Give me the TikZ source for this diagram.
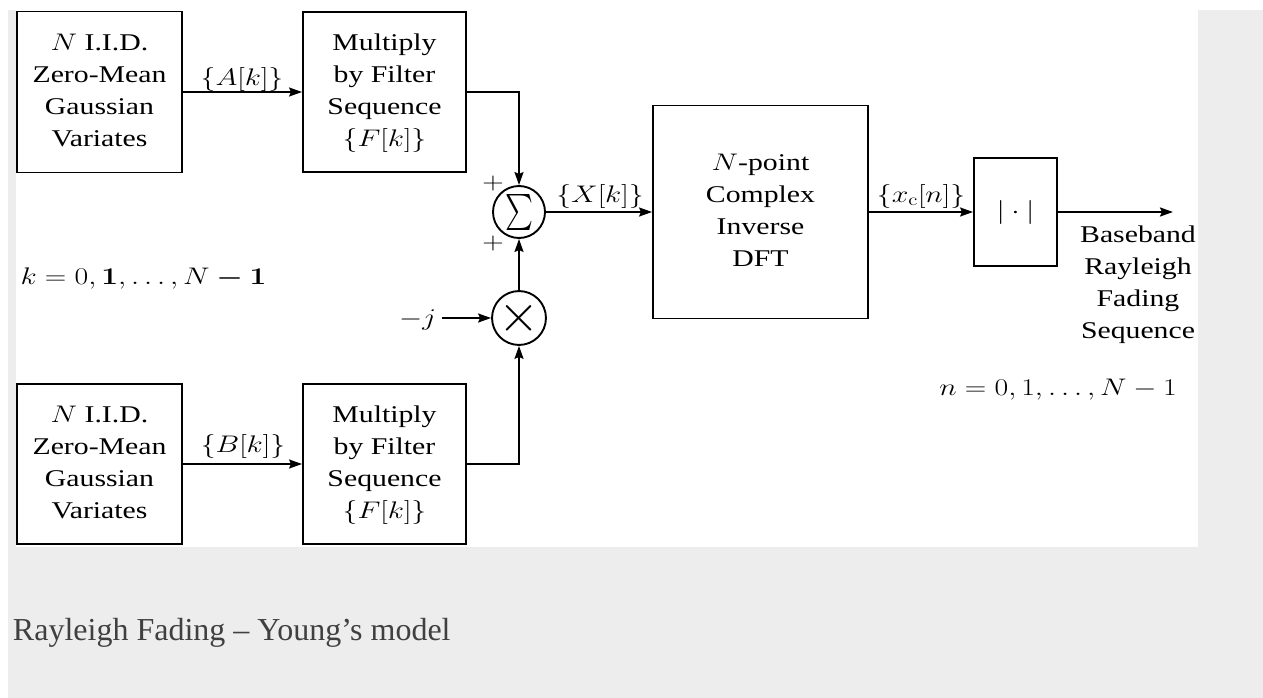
\RequirePackage{fix-cm}
\documentclass[tikz,border=0pt]{standalone}
\usepackage{amsmath}
\usepackage[no-math]{fontspec}
\setmainfont{Liberation Serif}
\usepackage{graphicx}
\usetikzlibrary{arrows.meta}
\definecolor{pagegrey}{HTML}{EDEDED}
\definecolor{captiongrey}{HTML}{404040}
\newcommand{\hs}[1]{\scalebox{1.24}[1]{#1}}
\newcommand{\lines}[1]{\hs{\begin{tabular}{@{}c@{}}#1\end{tabular}}}
\begin{document}
\begin{tikzpicture}[x=1pt,y=-1pt,line width=1.9pt,
  font=\fontsize{24}{32}\selectfont,
  box/.style={draw,inner sep=0pt,align=center},
  opnode/.style={draw,circle,minimum size=52pt,inner sep=0pt},
  lab/.style={inner sep=0pt},
  arr/.style={-{Stealth[length=13pt,width=9pt,inset=2pt]}}]
\useasboundingbox (0,0) rectangle (1263,698);
\fill[white] (0,0) rectangle (1263,698);
\fill[pagegrey] (8,10) rectangle (1263,698);
\fill[white] (16,10) rectangle (1198,547);

% boxes
\node[box,minimum width=165pt,minimum height=161pt] (g1) at (99.5,92) {\lines{$N$ I.I.D.\\Zero-Mean\\Gaussian\\Variates}};
\node[box,minimum width=163pt,minimum height=160pt] (f1) at (384.5,92) {\lines{Multiply\\by Filter\\Sequence\\$\{F[k]\}$}};
\node[box,minimum width=165pt,minimum height=160pt] (g2) at (99.5,464) {\lines{$N$ I.I.D.\\Zero-Mean\\Gaussian\\Variates}};
\node[box,minimum width=163pt,minimum height=160pt] (f2) at (384.5,464) {\lines{Multiply\\by Filter\\Sequence\\$\{F[k]\}$}};
\node[opnode] (sum) at (519,212) {\resizebox*{28pt}{36pt}{$\sum$}};
\node[opnode] (mul) at (519,318) {\scalebox{2.2}{$\times$}};
\node[box,minimum width=215pt,minimum height=213pt] (dft) at (760.5,212) {\lines{$N$-point\\Complex\\Inverse\\DFT}};
\node[box,minimum width=83pt,minimum height=108pt] (abs) at (1015.5,212) {\hs{$|\cdot|$}};
\coordinate (out) at (1173,212);
\coordinate (jst) at (442,318);

% labels
\node[lab] (la) at (242,80) {\hs{$\{A[k]\}$}};
\node[lab] (lb) at (243,446) {\hs{$\{B[k]\}$}};
\node[lab] (lx) at (600,196) {\hs{$\{X[k]\}$}};
\node[lab] (lxc) at (921,196) {\hs{$\{x_{\mathrm{c}}[n]\}$}};
\node[lab] (pa) at (493,183) {\hs{$+$}};
\node[lab] (pb) at (493,243) {\hs{$+$}};
\node[lab,anchor=base east] (mj) at (437,325) {\hs{$-j$}};
\node[lab] (res) at (1138,284) {\lines{Baseband\\Rayleigh\\Fading\\Sequence}};
\node[lab] (kr) at (143.5,278) {\hs{$k=0,\mathbf{1},\ldots,N\boldsymbol{-}\mathbf{1}$}};
\node[lab] (nr) at (1058,390) {\hs{$n=0,1,\ldots,N-1$}};
\node[lab,anchor=base west,font=\fontsize{32}{38}\selectfont,text=captiongrey] (cap) at (12,640) {Rayleigh Fading – Young’s model};

% connectors
\draw[arr] (g1) -- (f1);
\draw[arr] (g2) -- (f2);
\draw[arr] (f1.east) -| (sum.north);
\draw[arr] (f2.east) -| (mul.south);
\draw[arr] (mul.north) -- (sum.south);
\draw[arr] (jst) -- (mul.west);
\draw[arr] (sum.east) -- (dft.west);
\draw[arr] (dft.east) -- (abs.west);
\draw[arr] (abs.east) -- (out);
\end{tikzpicture}
\end{document}
